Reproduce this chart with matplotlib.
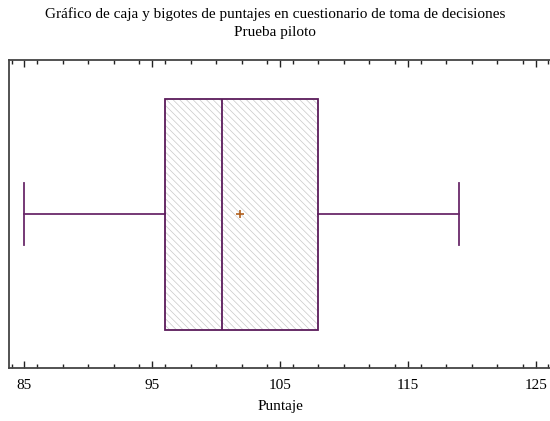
import matplotlib
matplotlib.use('Agg')
import matplotlib.pyplot as plt
from matplotlib.patches import PathPatch
from matplotlib.ticker import MultipleLocator

# resumen de los puntajes (prueba piloto)
minimo = 85
q1 = 96
mediana = 100.5
q3 = 108
maximo = 119
media = 101.9

titulo = 'Gráfico de caja y bigotes de puntajes en cuestionario de toma de decisiones\nPrueba piloto'
etiqueta_x = 'Puntaje'

plt.rcParams['font.family'] = ['Liberation Serif', 'DejaVu Serif']
plt.rcParams['hatch.linewidth'] = 0.5

fig = plt.figure(figsize=(5.5, 4.21), dpi=100)
ax = fig.add_axes([9 / 550, 1 - 368 / 421, 542 / 550, 308 / 421])

stats = [{
    'whislo': minimo, 'q1': q1, 'med': mediana, 'q3': q3, 'whishi': maximo,
    'mean': media, 'fliers': [], 'label': '',
}]
morado = '#5b1b5b'
gris = '#c8c8c8'
bp = ax.bxp(stats, vert=False, positions=[0], widths=0.75, showmeans=True,
            patch_artist=True, showfliers=False,
            boxprops=dict(facecolor='white', edgecolor=gris, linewidth=0,
                          hatch='\\\\\\\\\\'),
            medianprops=dict(color=morado, linewidth=1.3, zorder=4),
            whiskerprops=dict(color='#6a2a6a', linewidth=1.3),
            capprops=dict(color='#6a2a6a', linewidth=1.3),
            meanprops=dict(marker='+', markeredgecolor='#b0601e', markersize=6,
                           markeredgewidth=1.2, zorder=5))

# contorno de la caja sin rayado
caja = bp['boxes'][0]
ax.add_patch(PathPatch(caja.get_path(), fill=False, edgecolor=morado,
                       linewidth=1.3, zorder=3))

for c in bp['caps']:
    c.set_ydata([-0.1, 0.1])

ax.set_xlim(83.8, 126.2)
ax.set_ylim(-0.5, 0.5)
ax.xaxis.set_minor_locator(MultipleLocator(2))
ax.set_xticks([85, 95, 105, 115, 125])
ax.tick_params(axis='x', which='both', direction='in', top=True, bottom=True,
               color='#222222', labelsize=11, pad=8)
ax.tick_params(axis='x', which='major', length=5, width=1)
ax.tick_params(axis='x', which='minor', length=3, width=1)
ax.set_yticks([])
for s in ax.spines.values():
    s.set_color('#444444')
    s.set_linewidth(1.3)

ax.set_xlabel(etiqueta_x, fontsize=11, labelpad=6)
fig.text(0.5, 0.984, titulo, ha='center', va='top', fontsize=11, linespacing=1.5)

fig.savefig('out.png', dpi=100)
